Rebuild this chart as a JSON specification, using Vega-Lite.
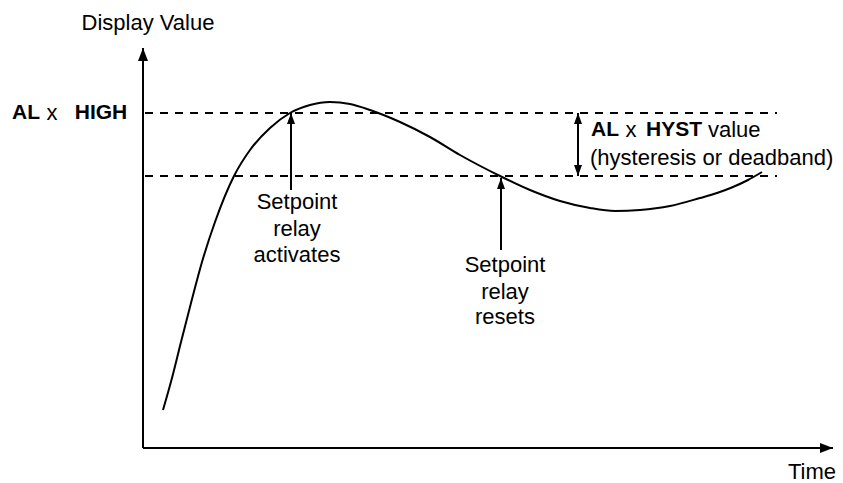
{
  "$schema": "https://vega.github.io/schema/vega-lite/v6.json",
  "width": 843,
  "height": 483,
  "autosize": {"type": "fit", "contains": "padding"},
  "padding": 0,
  "background": "white",
  "view": {"stroke": null},
  "config": {"font": "Liberation Sans"},
  "datasets": {
    "curve": [
      {"t": 20, "v": 38}, {"t": 29, "v": 70}, {"t": 38, "v": 106}, {"t": 48, "v": 145},
      {"t": 59, "v": 186}, {"t": 72, "v": 226}, {"t": 91, "v": 272}, {"t": 107, "v": 298},
      {"t": 127, "v": 320}, {"t": 147, "v": 335}, {"t": 167, "v": 343}, {"t": 187, "v": 346},
      {"t": 207, "v": 344}, {"t": 227, "v": 338}, {"t": 257, "v": 326}, {"t": 287, "v": 311},
      {"t": 317, "v": 293}, {"t": 357, "v": 272}, {"t": 387, "v": 258}, {"t": 417, "v": 247},
      {"t": 447, "v": 240}, {"t": 472, "v": 237}, {"t": 497, "v": 238}, {"t": 527, "v": 242},
      {"t": 557, "v": 250}, {"t": 574, "v": 255}, {"t": 590, "v": 261}, {"t": 605, "v": 268},
      {"t": 619, "v": 276}
    ],
    "axes": [
      {"t": 0, "v": 0, "t2": 0, "v2": 400},
      {"t": 0, "v": 0, "t2": 690, "v2": 0}
    ],
    "levels": [
      {"t": 2, "t2": 634, "v": 335},
      {"t": 2, "t2": 634, "v": 272}
    ],
    "pointers": [
      {"t": 148, "v": 258, "v2": 335},
      {"t": 358, "v": 198, "v2": 270},
      {"t": 435, "v": 272, "v2": 335}
    ],
    "headAxisUp": [{"t": 0, "v": 400}],
    "headAxisRight": [{"t": 690, "v": 0}],
    "headsUp": [{"t": 148, "v": 335}, {"t": 358, "v": 270}, {"t": 435, "v": 335}],
    "headsDown": [{"t": 435, "v": 272}],
    "labelsCenter": [
      {"t": 5, "v": 425, "label": "Display Value"},
      {"t": 669, "v": -24, "label": "Time"},
      {"t": -91, "v": 335, "label": "x"},
      {"t": 488, "v": 318, "label": "x"},
      {"t": 154, "v": 246, "label": "Setpoint"},
      {"t": 154, "v": 219, "label": "relay"},
      {"t": 154, "v": 193, "label": "activates"},
      {"t": 362, "v": 183, "label": "Setpoint"},
      {"t": 362, "v": 156, "label": "relay"},
      {"t": 362, "v": 131, "label": "resets"}
    ],
    "labelsLeft": [
      {"t": 565, "v": 318, "label": "value"},
      {"t": 447, "v": 290, "label": "(hysteresis or deadband)"}
    ],
    "labelsBold": [
      {"t": -117, "v": 335, "label": "AL"},
      {"t": -42, "v": 335, "label": "HIGH"},
      {"t": 462, "v": 318, "label": "AL"},
      {"t": 531, "v": 318, "label": "HYST"}
    ]
  },
  "encoding": {
    "x": {"field": "t", "type": "quantitative", "scale": {"domain": [-143, 700], "nice": false, "zero": false}, "axis": null},
    "y": {"field": "v", "type": "quantitative", "scale": {"domain": [-35, 448], "nice": false, "zero": false}, "axis": null}
  },
  "layer": [
    {
      "data": {"name": "levels"},
      "mark": {"type": "rule", "color": "black", "strokeWidth": 1.8, "strokeDash": [8, 7]},
      "encoding": {"x2": {"field": "t2"}}
    },
    {
      "data": {"name": "axes"},
      "mark": {"type": "rule", "color": "black", "strokeWidth": 2},
      "encoding": {"x2": {"field": "t2"}, "y2": {"field": "v2"}}
    },
    {
      "data": {"name": "pointers"},
      "mark": {"type": "rule", "color": "black", "strokeWidth": 2},
      "encoding": {"y2": {"field": "v2"}}
    },
    {
      "data": {"name": "curve"},
      "mark": {"type": "line", "color": "black", "strokeWidth": 2, "interpolate": "monotone"},
      "encoding": {}
    },
    {
      "data": {"name": "headAxisUp"},
      "mark": {"type": "point", "shape": "M0,0L1,2.6L-1,2.6Z", "size": 100, "filled": true, "color": "black", "opacity": 1, "strokeWidth": 0}
    },
    {
      "data": {"name": "headAxisRight"},
      "mark": {"type": "point", "shape": "M0,0L-2.6,1L-2.6,-1Z", "size": 100, "filled": true, "color": "black", "opacity": 1, "strokeWidth": 0}
    },
    {
      "data": {"name": "headsUp"},
      "mark": {"type": "point", "shape": "M0,0L0.8,2.2L-0.8,2.2Z", "size": 100, "filled": true, "color": "black", "opacity": 1, "strokeWidth": 0}
    },
    {
      "data": {"name": "headsDown"},
      "mark": {"type": "point", "shape": "M0,0L0.8,-2.2L-0.8,-2.2Z", "size": 100, "filled": true, "color": "black", "opacity": 1, "strokeWidth": 0}
    },
    {
      "data": {"name": "labelsCenter"},
      "mark": {"type": "text", "align": "center", "baseline": "middle", "fontSize": 22, "color": "black"},
      "encoding": {"text": {"field": "label"}}
    },
    {
      "data": {"name": "labelsLeft"},
      "mark": {"type": "text", "align": "left", "baseline": "middle", "fontSize": 22, "color": "black"},
      "encoding": {"text": {"field": "label"}}
    },
    {
      "data": {"name": "labelsBold"},
      "mark": {"type": "text", "align": "center", "baseline": "middle", "fontSize": 21, "fontWeight": "bold", "color": "black"},
      "encoding": {"text": {"field": "label"}}
    }
  ]
}
